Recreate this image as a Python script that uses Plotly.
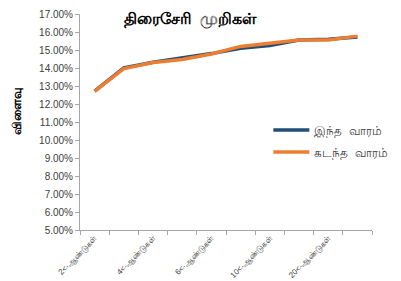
import plotly.graph_objects as go

categories = ["2<-ஆண்டுகள்", "3<-ஆண்டுகள்", "4<-ஆண்டுகள்", "5<-ஆண்டுகள்", "6<-ஆண்டுகள்",
              "8<-ஆண்டுகள்", "10<-ஆண்டுகள்", "15<-ஆண்டுகள்", "20<-ஆண்டுகள்", "30<-ஆண்டுகள்"]
this_week = [0.1272, 0.1400, 0.1432, 0.1455, 0.1480, 0.1510, 0.1525, 0.1555, 0.1560, 0.1572]
last_week = [0.1270, 0.1397, 0.1430, 0.1447, 0.1478, 0.1520, 0.1537, 0.1555, 0.1555, 0.1577]
y_ticks = [0.05, 0.06, 0.07, 0.08, 0.09, 0.10, 0.11, 0.12, 0.13, 0.14, 0.15, 0.16, 0.17]

xs = list(range(len(categories)))
shown = xs[::2]

fig = go.Figure()
fig.add_trace(go.Scatter(x=xs, y=this_week, mode="lines", name="இந்த  வாரம்",
                         legendgroup="a", line=dict(color="#1F4E79", width=3.5)))
fig.add_trace(go.Scatter(x=xs, y=last_week, mode="lines", name="கடந்த  வாரம்",
                         legendgroup="b", line=dict(color="#ED7D31", width=3.5)))

fig.update_layout(
    width=393, height=273,
    margin=dict(l=72, r=29, t=6, b=51, autoexpand=False),
    paper_bgcolor="white", plot_bgcolor="white",
    font=dict(family="Liberation Sans, Arial, sans-serif", color="#404040"),
    title=dict(text="<b>திரைசேரி  முறிகள்</b>", x=0.463, xanchor="center",
               y=0.963, yanchor="middle", font=dict(size=16, color="black")),
    showlegend=True,
    legend=dict(x=0.645, y=0.53, xanchor="left", yanchor="top",
                bgcolor="rgba(0,0,0,0)", font=dict(size=12, color="#404040"),
                itemwidth=36, traceorder="grouped", tracegroupgap=3),
    annotations=[dict(text="<b>விளைவு</b>", textangle=-90, xref="paper", yref="paper",
                      x=-0.215, y=0.546, xanchor="center", yanchor="middle",
                      showarrow=False, font=dict(size=12, color="black"))],
)
fig.update_xaxes(
    range=[-0.5, len(categories) - 0.5],
    tickmode="array", tickvals=shown, ticktext=[categories[i] for i in shown],
    tickangle=-45, tickfont=dict(size=8, color="#404040"),
    ticks="", showgrid=False, zeroline=False, automargin=False,
    showline=True, linecolor="#A6A6A6", linewidth=1,
    minor=dict(ticks="outside", ticklen=4, tickcolor="#A6A6A6", tick0=-0.5, dtick=1, showgrid=False),
)
fig.update_yaxes(
    range=[0.05, 0.17], tickmode="array", tickvals=y_ticks,
    tickformat=".2%", tickfont=dict(size=10, color="#404040"),
    ticks="outside", ticklen=4, tickcolor="#A6A6A6",
    showgrid=False, zeroline=False, automargin=False,
    showline=True, linecolor="#A6A6A6", linewidth=1,
)
fig.write_html("out.html")
